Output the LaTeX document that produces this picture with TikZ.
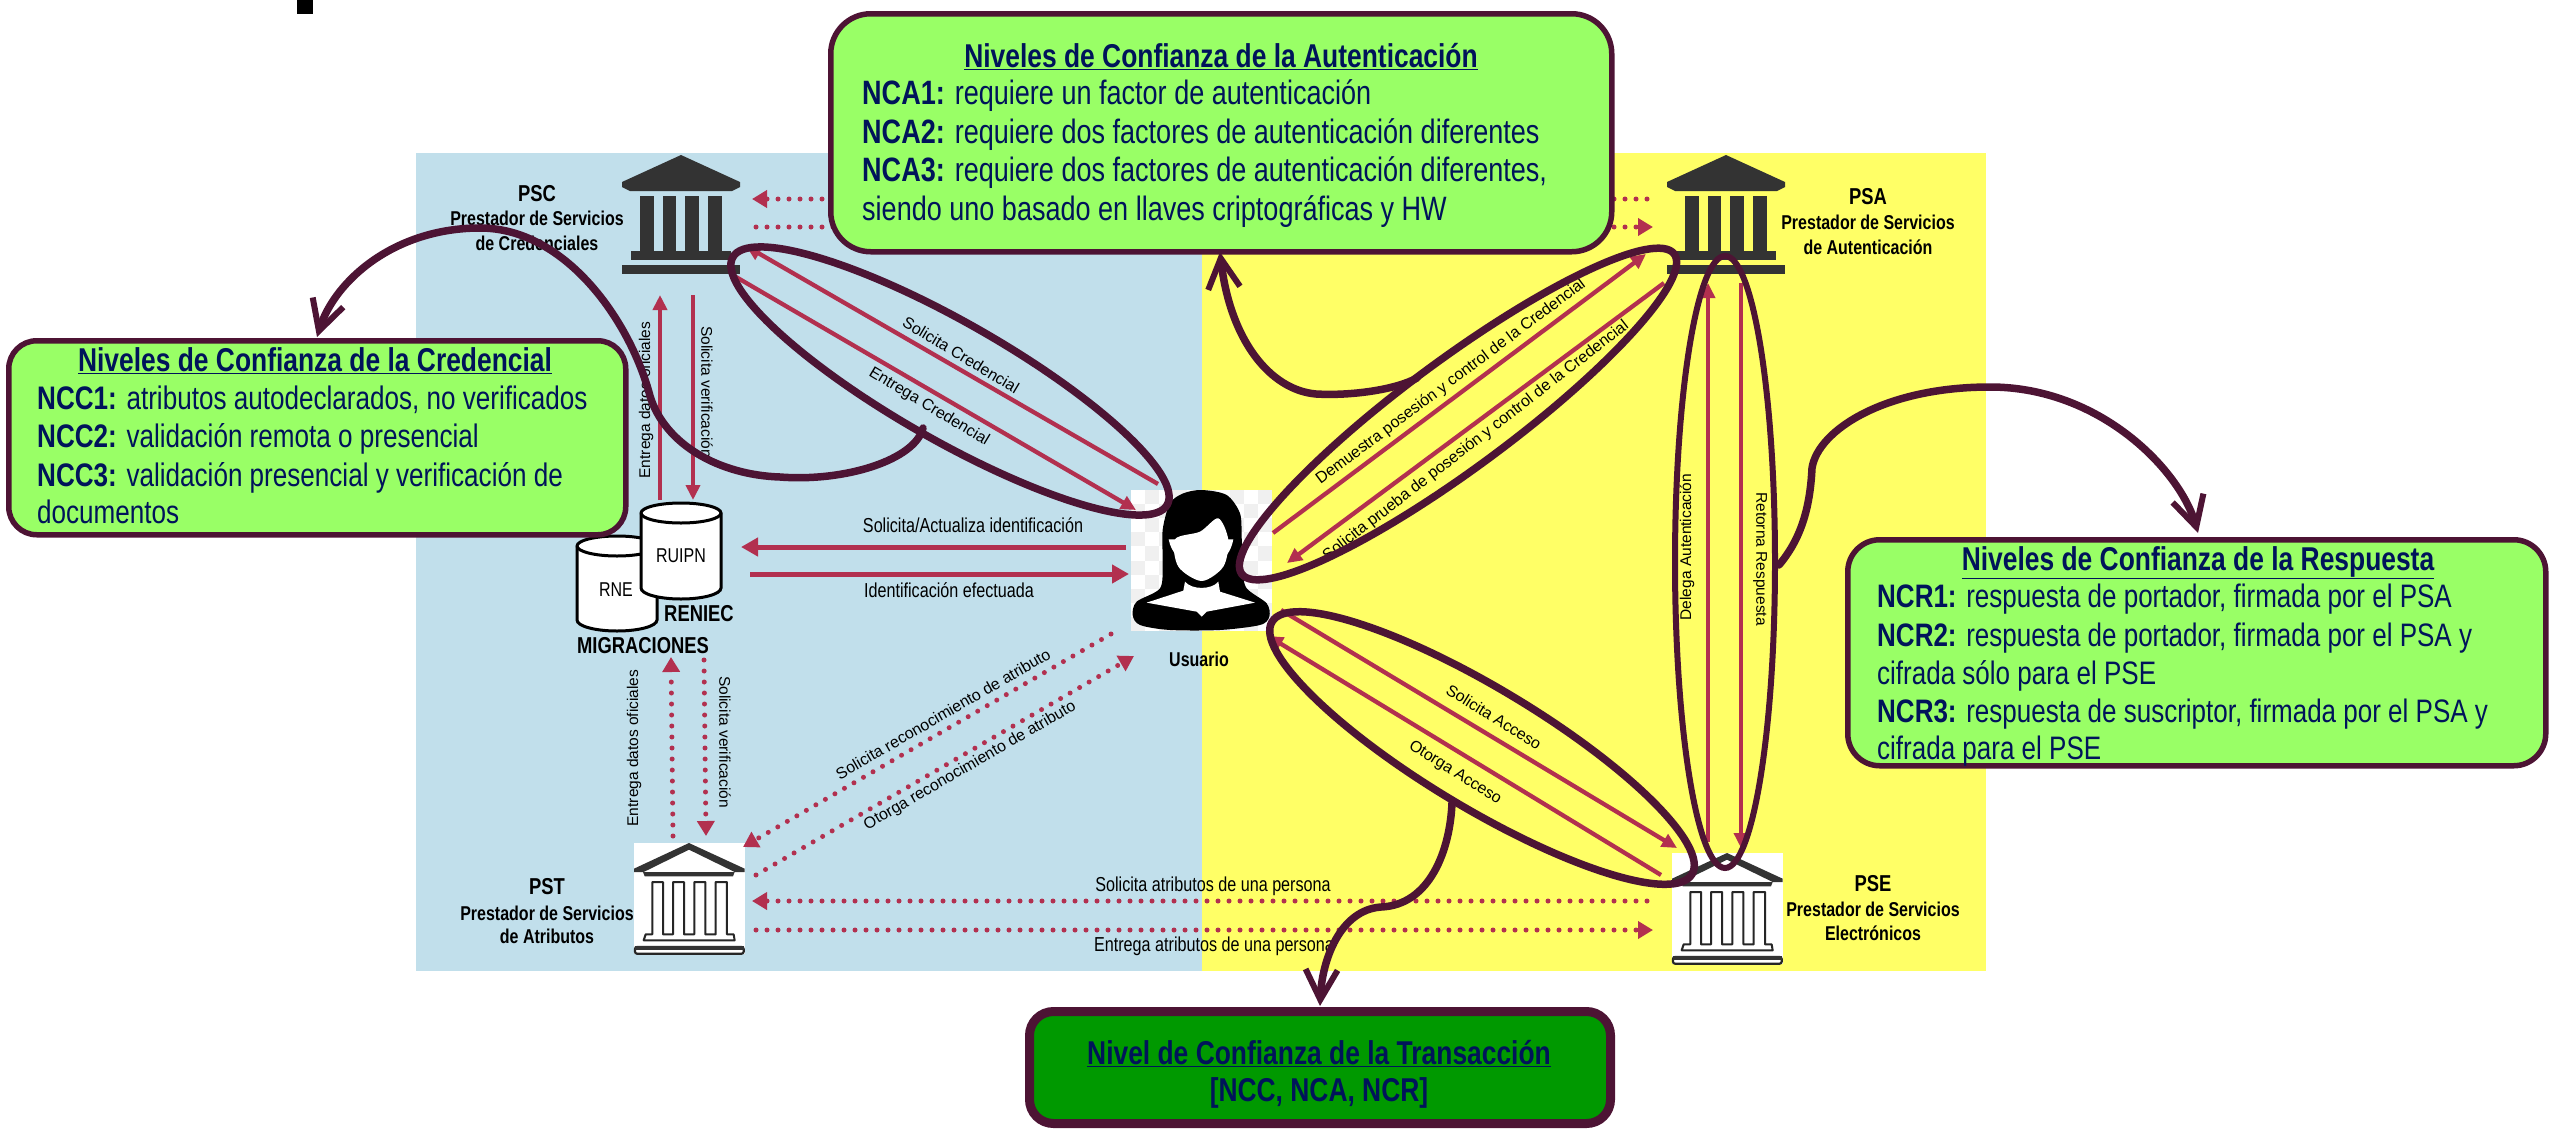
\documentclass[tikz,border=0pt]{standalone}
\usepackage{fontspec}
\setmainfont[FakeStretch=0.8]{Liberation Sans}
\newfontfamily\plainf{Liberation Sans}
\usetikzlibrary{arrows.meta,shapes.geometric}
\definecolor{darkplum}{HTML}{4D1434}
\definecolor{arrowred}{HTML}{B2304F}
\definecolor{lightgreen}{HTML}{99FF66}
\definecolor{deepgreen}{HTML}{009900}
\definecolor{navy}{HTML}{00145A}
\definecolor{panelblue}{HTML}{C1DFEB}
\definecolor{panelyellow}{HTML}{FFFF66}
\definecolor{icondark}{HTML}{333333}
\tikzset{
  greenbox/.style={draw=darkplum,line width=5.5pt,fill=lightgreen,inner sep=0pt},
  boxtext/.style={anchor=base west,inner sep=0pt,text=navy,font=\fontsize{32.6}{36}\selectfont},
  boxtitle/.style={anchor=base,inner sep=0pt,text=navy,font=\fontsize{33}{36}\selectfont\bfseries},
  actor/.style={anchor=base,inner sep=0pt,font=\fontsize{20}{22}\selectfont\bfseries},
  actorhead/.style={actor,font=\fontsize{23}{26}\selectfont\bfseries},
  flowlabel/.style={anchor=base,inner sep=0pt,font=\fontsize{20.2}{22}\selectfont},
  skewlabel/.style={inner sep=0pt,font=\plainf\fontsize{16}{18}\selectfont},
  vertlabel/.style={inner sep=0pt,font=\plainf\fontsize{15.5}{18}\selectfont},
  flowbig/.style={draw=arrowred,line width=5pt,-{Triangle[length=17pt,width=18pt]}},
  flowthin/.style={draw=arrowred,line width=4.3pt,-{Triangle[length=15pt,width=14pt]}},
  flowdot/.style={draw=arrowred,line width=5pt,line cap=round,dash pattern=on 0pt off 11pt,-{Triangle[length=15pt,width=17pt]}},
  leaf/.style={draw=darkplum,line width=7.5pt,shape=ellipse,inner sep=0pt},
  callout/.style={draw=darkplum,line width=7.5pt,line cap=round,-{Straight Barb[length=30pt,width=32pt,line width=6pt]}},
  cylbody/.style={draw=black,line width=3pt,fill=white},
}
\newcommand{\solidbank}[3]{% name, centre x, top y
  \coordinate (#1) at (#2,#3);
  \begin{scope}[shift={(#2,#3)},fill=icondark]
    \fill (0,0) -- (-59,27) -- (-59,32) -- (-51,36) -- (51,36) -- (59,32) -- (59,27) -- cycle;
    \fill (-41,41) rectangle (-27,96);
    \fill (-18,41) rectangle (-5,96);
    \fill (4,41) rectangle (18,96);
    \fill (27,41) rectangle (41,96);
    \fill (-50,96) rectangle (50,105);
    \fill (-59,110) rectangle (59,119);
  \end{scope}}
\newcommand{\outlinebank}[3]{% name, left x, top y
  \node[fill=white,inner sep=0pt,minimum width=111pt,minimum height=111pt,anchor=north west] (#1) at (#2,#3) {};
  \begin{scope}[shift={(#2,#3)},x=0.3333pt,y=-0.3333pt]
    \fill[icondark,even odd rule] (165,0) -- (332,77) -- (332,87) -- (302,87) -- (297,100) -- (32,100) -- (27,87) -- (0,87) -- (0,77) -- cycle
      (165,20) -- (302,87) -- (29,87) -- cycle;
    \draw[black!85,line width=2pt,line join=round] (35,274) -- (55,274) -- (55,117) -- (87,117) -- (87,274) -- (117,274) -- (117,117) -- (150,117) -- (150,274) -- (181,274) -- (181,117) -- (214,117) -- (214,274) -- (245,274) -- (245,117) -- (279,117) -- (279,274) -- (299,274) -- (302,292) -- (29,292) -- cycle;
    \draw[black!85,line width=2.2pt,rounded corners=2pt] (3,312) rectangle (329,332);
    \fill[icondark] (3,310) rectangle (329,320);
  \end{scope}}
\begin{document}
\begin{tikzpicture}[x=1pt,y=-1pt]
\useasboundingbox (0,0) rectangle (2549,1130);
% panels
\fill[panelblue] (416,153) rectangle (1202,971);
\fill[panelyellow] (1202,153) rectangle (1986,971);
\fill[black] (297,0) rectangle (313,14);
% icons
\solidbank{psc}{681}{155}
\solidbank{psa}{1726}{155}
\outlinebank{pst}{634}{843}
\outlinebank{pse}{1672}{853}
% cylinders
\draw[cylbody] (577,546) -- (577,620) arc[start angle=180,end angle=360,x radius=40pt,y radius=11pt] -- (657,546) arc[start angle=0,end angle=180,x radius=40pt,y radius=10pt] -- cycle;
\draw[black,line width=3pt] (577,546) arc[start angle=180,end angle=360,x radius=40pt,y radius=10pt];
\draw[cylbody] (641,513) -- (641,588) arc[start angle=180,end angle=360,x radius=40pt,y radius=11pt] -- (721,513) arc[start angle=0,end angle=180,x radius=40pt,y radius=10pt] -- cycle;
\draw[black,line width=3pt] (641,513) arc[start angle=180,end angle=360,x radius=40pt,y radius=10pt];
\node[flowlabel,anchor=center,font=\fontsize{20}{22}\selectfont] (ruipn) at (681,556) {RUIPN};
\node[flowlabel,anchor=center,font=\fontsize{20}{22}\selectfont] (rne) at (616,590) {RNE};
\node[actorhead] (reniec) at (699,621) {RENIEC};
\node[actorhead] (migra) at (643,653) {MIGRACIONES};
% user picture
\fill[white] (1131,490) rectangle (1272,631);
\foreach \i in {0,...,9}{\foreach \j in {0,...,9}{%
  \pgfmathtruncatemacro{\k}{\i+\j}%
  \ifodd\k\fill[black!6] ({1131+14.1*\i},{490+14.1*\j}) rectangle ++(14.1,14.1);\fi}}
\begin{scope}[shift={(1120,480)},x=0.3333pt,y=-0.3333pt]
  \fill[black] plot[smooth cycle,tension=0.5] coordinates {(245,30) (320,45) (360,100) (365,170) (368,250) (378,322) (440,370) (448,410) (420,435) (300,450) (150,450) (60,435) (38,405) (50,365) (120,325) (128,250) (128,150) (150,70) (190,40)};
  \fill[white] plot[smooth cycle,tension=0.5] coordinates {(165,178) (175,260) (245,303) (310,260) (325,180) (295,115) (240,155)};
  \fill[white] (146,178) .. controls (150,200) and (160,215) .. (168,225) -- (165,178) -- cycle;
  \fill[white] (340,178) .. controls (336,200) and (328,215) .. (320,225) -- (324,178) -- cycle;
  \fill[white] (80,368) -- (190,332) -- (195,305) .. controls (215,330) and (275,330) .. (295,305) -- (300,335) -- (405,368) -- (260,395) -- (245,410) -- (230,395) -- cycle;
\end{scope}
\node[actor] (usuario) at (1199,666) {Usuario};
% actor labels
\node[actorhead] (psct) at (537,201) {PSC};
\node[actor] (psct2) at (537,225) {Prestador de Servicios};
\node[actor] (psct3) at (537,250) {de Credenciales};
\node[actorhead] (psat) at (1868,204) {PSA};
\node[actor] (psat2) at (1868,229) {Prestador de Servicios};
\node[actor] (psat3) at (1868,254) {de Autenticación};
\node[actorhead] (pstt) at (547,894) {PST};
\node[actor] (pstt2) at (547,920) {Prestador de Servicios};
\node[actor] (pstt3) at (547,943) {de Atributos};
\node[actorhead] (pset) at (1873,891) {PSE};
\node[actor] (pset2) at (1873,916) {Prestador de Servicios};
\node[actor] (pset3) at (1873,940) {Electrónicos};
% connector ends
\coordinate (a1s) at (1158,484); \coordinate (a1e) at (746,246);
\coordinate (a2s) at (736,277); \coordinate (a2e) at (1136,510);
\coordinate (b1s) at (693,295); \coordinate (b1e) at (693,500);
\coordinate (b2s) at (660,500); \coordinate (b2e) at (660,295);
\coordinate (c1s) at (1126,547); \coordinate (c1e) at (741,547);
\coordinate (c2s) at (750,574); \coordinate (c2e) at (1129,574);
\coordinate (d1s) at (673,836); \coordinate (d1e) at (671,657);
\coordinate (d2s) at (704,660); \coordinate (d2e) at (706,836);
\coordinate (e1s) at (1111,634); \coordinate (e1e) at (743,847);
\coordinate (e2s) at (756,875); \coordinate (e2e) at (1134,656);
\coordinate (f1s) at (1647,901); \coordinate (f1e) at (752,901);
\coordinate (f2s) at (756,930); \coordinate (f2e) at (1653,930);
\coordinate (g1s) at (1647,199); \coordinate (g1e) at (752,199);
\coordinate (g2s) at (756,227); \coordinate (g2e) at (1653,227);
\coordinate (h1s) at (1273,533); \coordinate (h1e) at (1646,254);
\coordinate (h2s) at (1664,283); \coordinate (h2e) at (1287,563);
\coordinate (i1s) at (1281,610); \coordinate (i1e) at (1677,848);
\coordinate (i2s) at (1661,875); \coordinate (i2e) at (1268,636);
\coordinate (j1s) at (1708,842); \coordinate (j1e) at (1708,283);
\coordinate (j2s) at (1741,283); \coordinate (j2e) at (1741,848);
% connectors
\draw[flowthin] (a1s) -- (a1e);
\draw[flowthin] (a2s) -- (a2e);
\draw[flowthin] (b1s) -- (b1e);
\draw[flowthin] (b2s) -- (b2e);
\draw[flowbig] (c1s) -- (c1e);
\draw[flowbig] (c2s) -- (c2e);
\draw[flowdot] (d1s) -- (d1e);
\draw[flowdot] (d2s) -- (d2e);
\draw[flowdot] (e1s) -- (e1e);
\draw[flowdot] (e2s) -- (e2e);
\draw[flowdot] (f1s) -- (f1e);
\draw[flowdot] (f2s) -- (f2e);
\draw[flowdot] (g1s) -- (g1e);
\draw[flowdot] (g2s) -- (g2e);
\draw[flowthin] (h1s) -- (h1e);
\draw[flowthin] (h2s) -- (h2e);
\draw[flowthin] (i1s) -- (i1e);
\draw[flowthin] (i2s) -- (i2e);
\draw[flowthin,line width=3.5pt] (j1s) -- (j1e);
\draw[flowthin,line width=3.5pt] (j2s) -- (j2e);
% flow labels
\node[flowlabel] (lc1) at (973,532) {Solicita/Actualiza identificación};
\node[flowlabel] (lc2) at (949,597) {Identificación efectuada};
\node[flowlabel] (lf1) at (1213,891) {Solicita atributos de una persona};
\node[flowlabel] (lf2) at (1214,951) {Entrega atributos de una persona};
\node[vertlabel,rotate=90] (lb1) at (646,400) {Entrega datos oficiales};
\node[vertlabel,rotate=-90] (lb2) at (707,392) {Solicita verificación};
\node[vertlabel,rotate=90] (ld1) at (634,748) {Entrega datos oficiales};
\node[vertlabel,rotate=-90] (ld2) at (725,742) {Solicita verificación};
\node[vertlabel,rotate=90] (lj1) at (1687,547) {Delega Autenticación};
\node[vertlabel,rotate=-90] (lj2) at (1760,559) {Retorna Respuesta};
\node[skewlabel,rotate=-31] (la1) at (961,355) {Solicita Credencial};
\node[skewlabel,rotate=-31] (la2) at (929,407) {Entrega Credencial};
\node[skewlabel,rotate=30] (le1) at (943,714) {Solicita reconocimiento de atributo};
\node[skewlabel,rotate=30] (le2) at (970,766) {Otorga reconocimiento de atributo};
\node[skewlabel,rotate=36.8] (lh1) at (1451,382) {Demuestra posesión y control de la Credencial};
\node[skewlabel,rotate=37.7] (lh2) at (1476,441) {Solicita prueba de posesión y control de la Credencial};
\node[skewlabel,rotate=-32] (li1) at (1494,717) {Solicita Acceso};
\node[skewlabel,rotate=-32] (li2) at (1455,773) {Otorga Acceso};
% leaves
\node[leaf,minimum width=500pt,minimum height=118pt,rotate=-29.7] (leafa) at (950,381) {};
\node[leaf,minimum width=538pt,minimum height=108pt,rotate=36.5] (leafb) at (1458,414) {};
\node[leaf,minimum width=490pt,minimum height=120pt,rotate=-31] (leafc) at (1482,748) {};
\node[leaf,minimum width=612pt,minimum height=100pt,line width=6pt,rotate=90] (leafd) at (1725,562) {};
% boxes
\node[greenbox,rounded corners=40pt,minimum width=781pt,minimum height=238pt,anchor=north west] (nca) at (828,11) {};
\node[boxtitle] (ncat) at (1221,67) {\underline{Niveles de Confianza de la Autenticación}};
\node[boxtext,font=\fontsize{33.8}{36}\selectfont] (nca1) at (862,104) {\textbf{NCA1:} requiere un factor de autenticación};
\node[boxtext,font=\fontsize{33.8}{36}\selectfont] (nca2) at (862,143) {\textbf{NCA2:} requiere dos factores de autenticación diferentes};
\node[boxtext,font=\fontsize{33.8}{36}\selectfont] (nca3) at (862,181) {\textbf{NCA3:} requiere dos factores de autenticación diferentes,};
\node[boxtext,font=\fontsize{33.8}{36}\selectfont] (nca4) at (862,220) {siendo uno basado en llaves criptográficas y HW};
\node[greenbox,rounded corners=28pt,minimum width=617pt,minimum height=194pt,anchor=north west] (ncc) at (6,338) {};
\node[boxtitle] (ncct) at (315,371) {\underline{Niveles de Confianza de la Credencial}};
\node[boxtext] (ncc1) at (37,409) {\textbf{NCC1:} atributos autodeclarados, no verificados};
\node[boxtext] (ncc2) at (37,447) {\textbf{NCC2:} validación remota o presencial};
\node[boxtext] (ncc3) at (37,486) {\textbf{NCC3:} validación presencial y verificación de};
\node[boxtext] (ncc4) at (37,523) {documentos};
\node[greenbox,rounded corners=32pt,minimum width=698pt,minimum height=226pt,anchor=north west] (ncr) at (1845,537) {};
\node[boxtitle] (ncrt) at (2198,570) {\underline{Niveles de Confianza de la Respuesta}};
\node[boxtext,font=\fontsize{32.5}{36}\selectfont] (ncr1) at (1877,607) {\textbf{NCR1:} respuesta de portador, firmada por el PSA};
\node[boxtext,font=\fontsize{32.5}{36}\selectfont] (ncr2) at (1877,646) {\textbf{NCR2:} respuesta de portador, firmada por el PSA y};
\node[boxtext,font=\fontsize{32.5}{36}\selectfont] (ncr3) at (1877,684) {cifrada sólo para el PSE};
\node[boxtext,font=\fontsize{32.5}{36}\selectfont] (ncr4) at (1877,722) {\textbf{NCR3:} respuesta de suscriptor, firmada por el PSA y};
\node[boxtext,font=\fontsize{32.5}{36}\selectfont] (ncr5) at (1877,759) {cifrada para el PSE};
\node[greenbox,fill=deepgreen,line width=9pt,rounded corners=24pt,minimum width=581pt,minimum height=112pt,anchor=north west] (nct) at (1025,1007) {};
\node[boxtitle] (nctt) at (1319,1064) {\underline{Nivel de Confianza de la Transacción}};
\node[boxtitle] (nctb) at (1319,1101) {[NCC, NCA, NCR]};
% callouts
\coordinate (ca) at (923,428); \coordinate (cb) at (1417,378); \coordinate (cc) at (1779,565); \coordinate (cd) at (1452,803);
\coordinate (ta) at (317,337); \coordinate (tb) at (1220,252); \coordinate (tc) at (2198,533); \coordinate (td) at (1320,1006);
\draw[callout] (ca) .. controls (915,460) and (845,482) .. (780,477) .. controls (720,475) and (665,445) .. (650,396) .. controls (630,320) and (565,228) .. (480,228) .. controls (395,228) and (335,280) .. (ta);
\draw[callout] (cb) .. controls (1395,390) and (1350,396) .. (1316,394) .. controls (1270,390) and (1230,340) .. (tb);
\draw[callout] (cc) .. controls (1800,540) and (1810,510) .. (1812,468) .. controls (1818,430) and (1885,387) .. (1990,387) .. controls (2100,387) and (2180,470) .. (tc);
\draw[callout] (cd) .. controls (1450,850) and (1430,905) .. (1381,907) .. controls (1340,910) and (1322,960) .. (td);
\end{tikzpicture}
\end{document}
